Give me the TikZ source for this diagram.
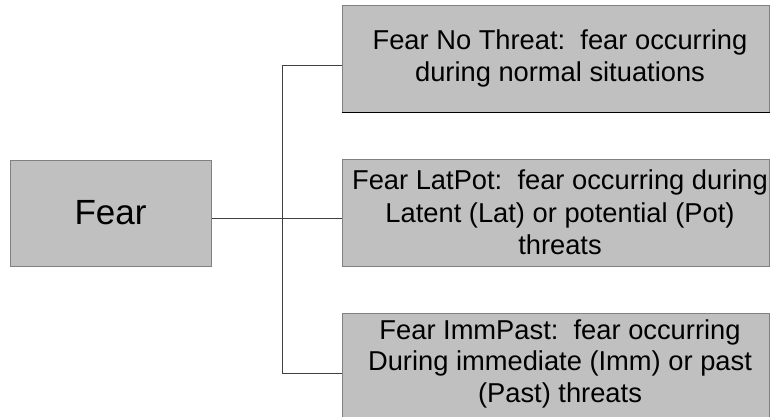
\documentclass[tikz,border=0pt]{standalone}
\usepackage{fontspec}
\setmainfont{Liberation Sans}
\begin{document}
\begin{tikzpicture}[x=1pt,y=-1pt,
  boxfill/.style={fill={rgb,255:red,192;green,192;blue,192}},
  bx/.style={boxfill,draw={rgb,255:red,128;green,128;blue,128},line width=1pt,
    rectangle,inner sep=0pt,align=center,
    font=\fontsize{27.3}{32.3}\selectfont},
  txt/.style={inner sep=0pt,align=center,font=\fontsize{27.3}{31.5}\selectfont},
  conn/.style={draw={rgb,255:red,64;green,64;blue,64},line width=1pt}]
\useasboundingbox (0,0) rectangle (770,416);
\clip (0,0) rectangle (770,416);
\fill[white] (0,0) rectangle (770,416);
\node[bx,minimum width=201pt,minimum height=106pt,font=\fontsize{35}{40}\selectfont] (fear) at (110.5,213) {Fear};
\node[bx,minimum width=427pt,minimum height=107pt] (nt) at (555.5,58.5)
  {\hspace*{9pt}Fear No Threat:\ \ fear occurring\\\hspace*{9pt}during normal situations};
\draw[line width=1.2pt,black] (nt.south west) -- (nt.south east);
\node[bx,minimum width=427pt,minimum height=107pt] (lp) at (555.5,212.5)
  {\hspace*{9pt}Fear LatPot:\ \ fear occurring during\\\hspace*{9pt}Latent (Lat) or potential (Pot)\\\hspace*{9pt}threats};
\node[bx,minimum width=427pt,minimum height=120pt] (ip) at (555.5,373) {};
\node[txt] (ipt) at (560,363.5)
  {Fear ImmPast:\ \ fear occurring\\During immediate (Imm) or past\\(Past) threats};
\coordinate (j) at (282,218);
\draw[conn] (fear.east |- j) -- (lp.west |- j);
\draw[conn] (nt.west |- 0,65) -| (282,373) -- (ip.west |- 0,373);
\end{tikzpicture}
\end{document}
